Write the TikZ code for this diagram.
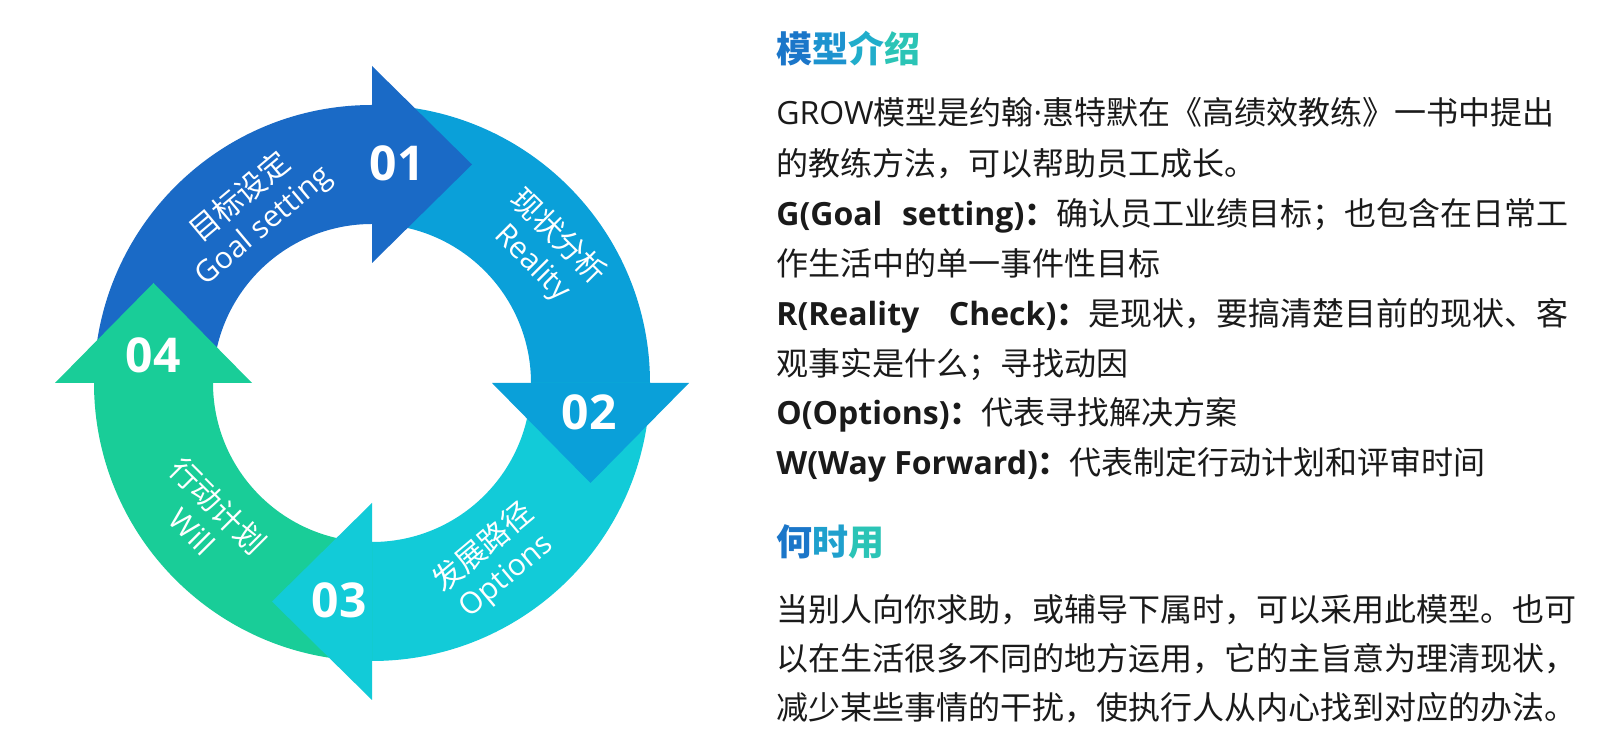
\documentclass[tikz,border=0pt]{standalone}
\usepackage{fontspec}
\setmainfont{Noto Sans CJK SC}
\newfontfamily\latin{Open Sans}
\usetikzlibrary{calc}
\definecolor{cA}{HTML}{1A6AC6}
\definecolor{cB}{HTML}{0AA0D9}
\definecolor{cC}{HTML}{12CBD8}
\definecolor{cD}{HTML}{19CD98}
\definecolor{txt}{HTML}{1A1A1A}
\definecolor{tg1}{HTML}{1B76C9}
\definecolor{tg2}{HTML}{1D93CF}
\definecolor{tg3}{HTML}{21ADCB}
\definecolor{tg4}{HTML}{2BC4B6}
\newcommand\ringseg[3]{\fill[#1] ($(c)+(#2:139pt)$) arc[start angle=#2,end angle=#3,radius=139pt] -- ($(c)+(#3:79.5pt)$) arc[start angle=#3,end angle=#2,radius=79.5pt] -- cycle;}
\newcommand\ringhead[2]{\fill[#1] ($(c)+(#2:60pt)$) -- ($(c)+(#2:158.5pt)$) -- ($(c)+(#2:109.25pt)+(#2-90:50pt)$) -- cycle;}
\begin{document}
\begin{tikzpicture}[x=0.5pt,y=0.5pt,
  lbl/.style={text=white,font=\fontsize{15pt}{18pt}\selectfont,align=center,inner sep=0pt},
  num/.style={text=white,font=\latin\bfseries\fontsize{24pt}{28pt}\selectfont,inner sep=0pt},
  body/.style={text=txt,font=\fontsize{16pt}{20pt}\selectfont,anchor=base west,inner sep=0pt},
  head/.style={font=\bfseries\fontsize{18pt}{22pt}\selectfont,anchor=base west,inner sep=0pt}]
\useasboundingbox (0,0) rectangle (1597,739);
\fill[white] (0,0) rectangle (1597,739);
\coordinate (c) at (372,356);
% ring segments
\ringseg{cA}{180}{90}
\ringseg{cB}{90}{0}
\ringseg{cC}{0}{-90}
\ringseg{cD}{-90}{-180}
% arrow heads
\ringhead{cA}{90}
\ringhead{cB}{0}
\ringhead{cC}{-90}
\ringhead{cD}{180}
% numbers
\node[num] (n1) at (397,576) {01};
\node[num] (n2) at (589,327) {02};
\node[num] (n3) at (339,139) {03};
\node[num] (n4) at (153,384) {04};
% labels
\node[lbl,rotate=40] (lg) at (252,527) {目标设定\\{\latin Goal setting}};
\node[lbl,rotate=-45] (lr) at (545,489) {现状分析\\{\latin Reality}};
\node[lbl,rotate=40] (lo) at (495,177) {发展路径\\{\latin Options}};
\node[lbl,rotate=-45] (lw) at (206,221) {行动计划\\{\latin Will}};
% right text
\node[head] (t1) at (776,676) {\textcolor{tg1}{模}\textcolor{tg2}{型}\textcolor{tg3}{介}\textcolor{tg4}{绍}};
\node[body] (p1) at (776,614) {{\latin GROW}模型是约翰{\latin ·}惠特默在《高绩效教练》一书中提出};
\node[body] (p2) at (776,563) {的教练方法，可以帮助员工成长。};
\node[body] (p3) at (776,513) {\makebox[396pt][s]{{\latin\bfseries G(Goal setting)}\textbf{：}确认员工业绩目标；也包含在日常工}};
\node[body] (p4) at (776,463) {作生活中的单一事件性目标};
\node[body] (p5) at (776,413) {\makebox[396pt][s]{{\latin\bfseries R(Reality Check)}\textbf{：}是现状，要搞清楚目前的现状、客}};
\node[body] (p6) at (776,363) {观事实是什么；寻找动因};
\node[body] (p7) at (776,314) {{\latin\bfseries O(Options)}\textbf{：}代表寻找解决方案};
\node[body] (p8) at (776,264) {{\latin\bfseries W(Way Forward)}\textbf{：}代表制定行动计划和评审时间};
\node[head] (t2) at (776,183) {\textcolor{tg1}{何}\textcolor{tg2!50!tg3}{时}\textcolor{tg4}{用}};
\node[body] (q1) at (776,117) {当别人向你求助，或辅导下属时，可以采用此模型。也可};
\node[body] (q2) at (776,68) {以在生活很多不同的地方运用，它的主旨意为理清现状，};
\node[body] (q3) at (776,19) {减少某些事情的干扰，使执行人从内心找到对应的办法。};
\end{tikzpicture}
\end{document}
